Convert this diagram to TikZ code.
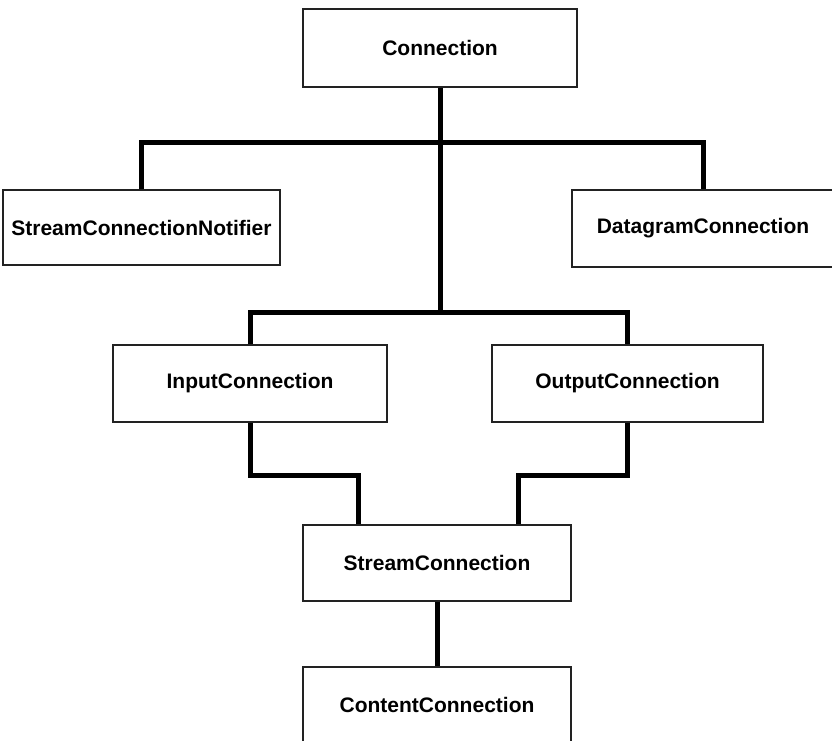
\documentclass[tikz,border=0pt]{standalone}
\usepackage{fontspec}
\setmainfont{Liberation Sans}
\usetikzlibrary{positioning,calc}
\definecolor{boxInk}{HTML}{222222}
\tikzset{
  cls/.style={draw=boxInk, line width=1.1pt, fill=white, inner sep=0pt, font=\bfseries\fontsize{21}{25}\selectfont, align=center},
  link/.style={line width=5pt, draw=black},
}

\begin{document}
\begin{tikzpicture}[x=1pt, y=-1pt]
            \useasboundingbox (0,0) rectangle (832,740);
            \node[cls, minimum width=274pt, minimum height=78pt] (conn) at (440,48) {Connection};
            \node[cls, minimum width=277pt, minimum height=75pt] (notif) at (141.5,227.5) {StreamConnectionNotifier};
            \node[cls, minimum width=262pt, minimum height=77pt] (dgram) at (703,228.5) {DatagramConnection};
            \node[cls, minimum width=274pt, minimum height=77pt] (inp) at (250,383.5) {InputConnection};
            \node[cls, minimum width=271pt, minimum height=77pt] (outp) at (627.5,383.5) {OutputConnection};
            \node[cls, minimum width=268pt, minimum height=76pt] (stream) at (437,563) {StreamConnection};
            \node[cls, minimum width=268pt, minimum height=76pt] (content) at (437,705) {ContentConnection};
            \coordinate (j1) at (440,142);
            \coordinate (j2) at (440,312);
            \draw[link] (conn.south) -- (j1) -- (j2);
            \draw[link] (notif.north) |- (j1) -| (dgram.north);
            \draw[link] (inp.north) |- (j2) -| (outp.north);
            \foreach \n/\s in {inp/-79,outp/81} \draw[link] (\n.south) -- ++(0,53) -| ([xshift=\s pt]stream.north);
            \draw[link] (stream.south) -- (content.north);
        \end{tikzpicture}
\end{document}
